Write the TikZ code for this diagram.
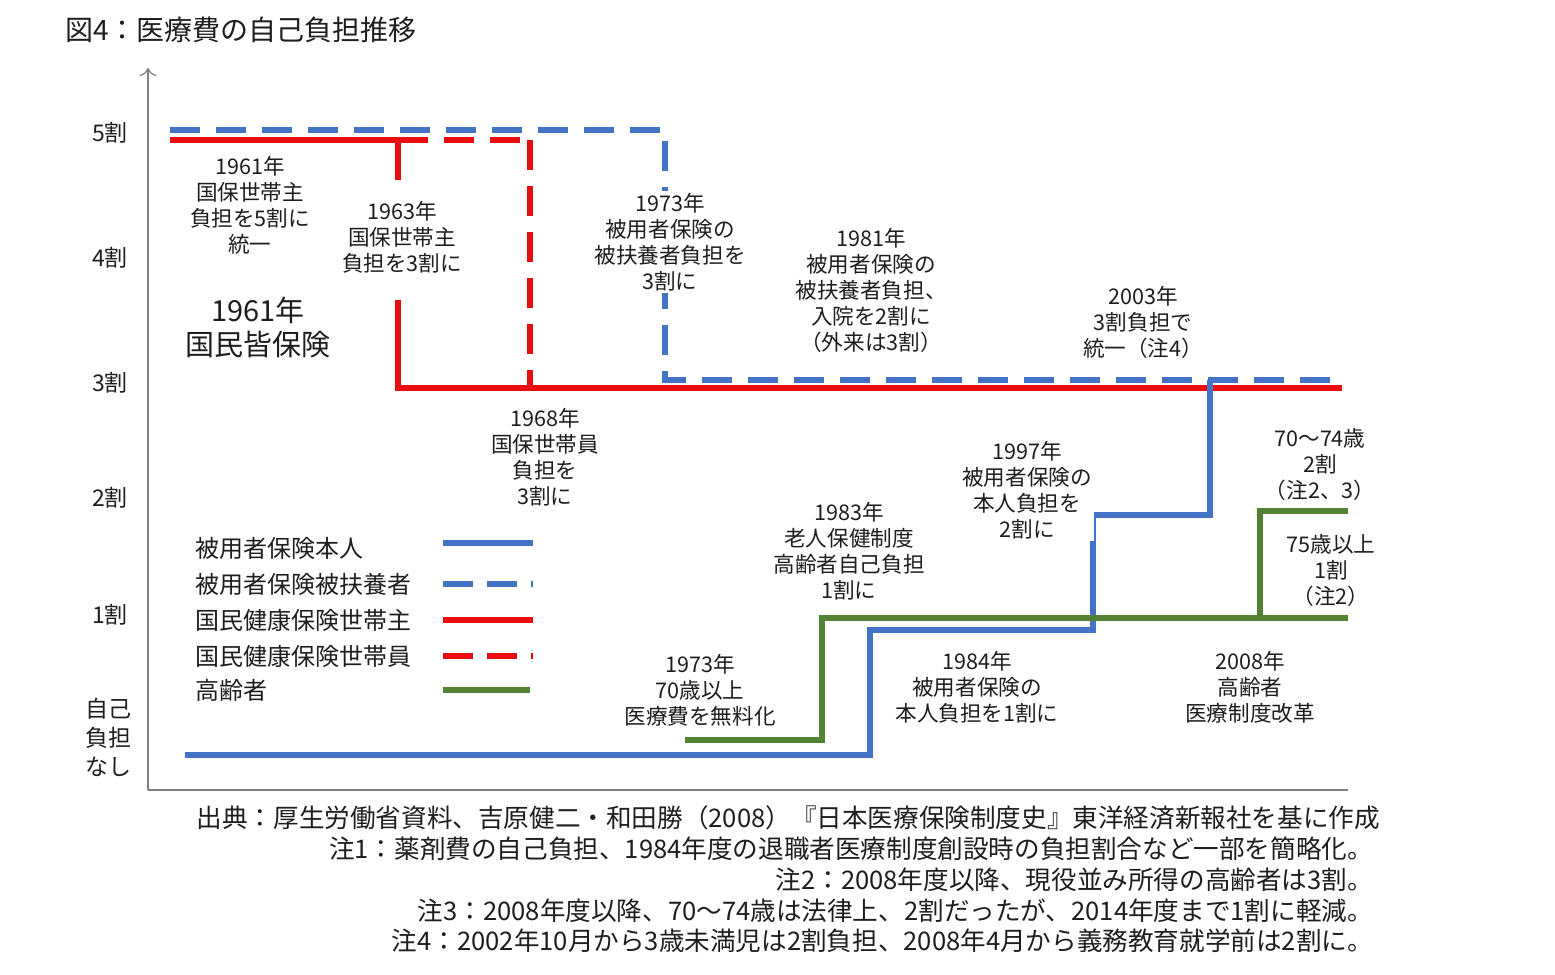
\documentclass[tikz,border=0pt]{standalone}
\usepackage{fontspec}
\setmainfont{Noto Sans CJK JP}
\usetikzlibrary{arrows.meta}
\definecolor{bl}{RGB}{68,114,196}
\definecolor{rd}{RGB}{232,14,14}
\definecolor{gr}{RGB}{84,130,53}
\definecolor{tx}{RGB}{30,30,30}
\tikzset{
 ln/.style={line width=2.6pt},
 blue s/.style={ln,bl},
 blue d/.style={ln,bl,dash pattern=on 15pt off 8pt},
 red s/.style={ln,rd},
 red d/.style={ln,rd,dash pattern=on 15pt off 8pt},
 green s/.style={ln,gr},
 lab/.style={align=center,font=\fontsize{10.8}{13}\selectfont,text=tx,inner sep=1pt,fill=white},
 ylab/.style={font=\fontsize{11.5}{14.5}\selectfont,text=tx,align=center},
 leg/.style={anchor=west,font=\fontsize{12}{13}\selectfont,text=tx},
 note/.style={anchor=east,font=\fontsize{12.8}{14}\selectfont,text=tx}
}
\begin{document}
\begin{tikzpicture}[x=0.5pt,y=-0.5pt]
\useasboundingbox (0,0) rectangle (1555,975);
\node[anchor=west,font=\fontsize{14}{16}\selectfont,text=tx] (title) at (58,30) {図4：医療費の自己負担推移};
% axes
\coordinate (o) at (148,790);
\coordinate (top) at (148,68);
\coordinate (xe) at (1348,790);
\draw[gray,line width=0.6pt,-{To[length=4pt]}] (o) -- (top);
\draw[gray,line width=0.6pt] (o) -- (xe);
\node[ylab] (y5) at (110,133) {5割};
\node[ylab] (y4) at (110,258) {4割};
\node[ylab] (y3) at (110,383) {3割};
\node[ylab] (y2) at (110,498) {2割};
\node[ylab] (y1) at (110,615) {1割};
\node[ylab] (y0) at (108,737) {自己\\負担\\なし};
% lines
\draw[blue d] (170,130) -- (665,130) -- (665,380) -- (1340,380);
\draw[red s] (170,140) -- (398,140) -- (398,180);
\draw[red s] (398,300) -- (398,388) -- (1342,388);
\draw[red d] (398,140) -- (530,140);
\draw[red d] (530,140) -- (530,388);
\draw[blue s] (185,755) -- (870,755) -- (870,630) -- (1093,630) -- (1093,515) -- (1210,515) -- (1210,380);
\draw[green s] (685,740) -- (822,740) -- (822,618) -- (1348,618);
\draw[green s] (1260,618) -- (1260,511) -- (1348,511);
% labels
\node[lab] (a1) at (250,205) {1961年\\国保世帯主\\負担を5割に\\統一};
\node[lab] (a2) at (402,237) {1963年\\国保世帯主\\負担を3割に};
\node[lab,font=\fontsize{14.5}{17}\selectfont] (a3) at (258,327) {1961年\\国民皆保険};
\node[lab] (a4) at (670,242) {1973年\\被用者保険の\\被扶養者負担を\\3割に};
\node[lab] (a5) at (871,290) {1981年\\被用者保険の\\被扶養者負担、\\入院を2割に\\（外来は3割）};
\node[lab] (a6) at (1143,322) {2003年\\3割負担で\\統一（注4）};
\node[lab] (a7) at (545,457) {1968年\\国保世帯員\\負担を\\3割に};
\node[lab] (a8) at (1027,490) {1997年\\被用者保険の\\本人負担を\\2割に};
\node[lab] (a9) at (1320,464) {70～74歳\\2割\\（注2、3）};
\node[lab] (a10) at (849,551) {1983年\\老人保健制度\\高齢者自己負担\\1割に};
\node[lab] (a11) at (1331,570) {75歳以上\\1割\\（注2）};
\node[lab] (a12) at (700,690) {1973年\\70歳以上\\医療費を無料化};
\node[lab] (a13) at (977,687) {1984年\\被用者保険の\\本人負担を1割に};
\node[lab] (a14) at (1250,687) {2008年\\高齢者\\医療制度改革};
% legend
\node[leg] (l1) at (188,548) {被用者保険本人};
\node[leg] (l2) at (188,584) {被用者保険被扶養者};
\node[leg] (l3) at (188,620) {国民健康保険世帯主};
\node[leg] (l4) at (188,656) {国民健康保険世帯員};
\node[leg] (l5) at (188,690) {高齢者};
\draw[blue s] (443,543) -- (533,543);
\draw[blue d,dash pattern=on 15pt off 7pt] (443,584) -- (533,584);
\draw[red s] (443,620) -- (533,620);
\draw[red d,dash pattern=on 15pt off 7pt] (443,656) -- (533,656);
\draw[green s] (443,690) -- (530,690);
% notes
\node[note] (n1) at (1387,818) {出典：厚生労働省資料、吉原健二・和田勝（2008）『日本医療保険制度史』東洋経済新報社を基に作成};
\node[note] (n2) at (1380,849) {注1：薬剤費の自己負担、1984年度の退職者医療制度創設時の負担割合など一部を簡略化。};
\node[note] (n3) at (1380,880) {注2：2008年度以降、現役並み所得の高齢者は3割。};
\node[note] (n4) at (1380,911) {注3：2008年度以降、70～74歳は法律上、2割だったが、2014年度まで1割に軽減。};
\node[note] (n5) at (1380,941) {注4：2002年10月から3歳未満児は2割負担、2008年4月から義務教育就学前は2割に。};
\end{tikzpicture}
\end{document}
